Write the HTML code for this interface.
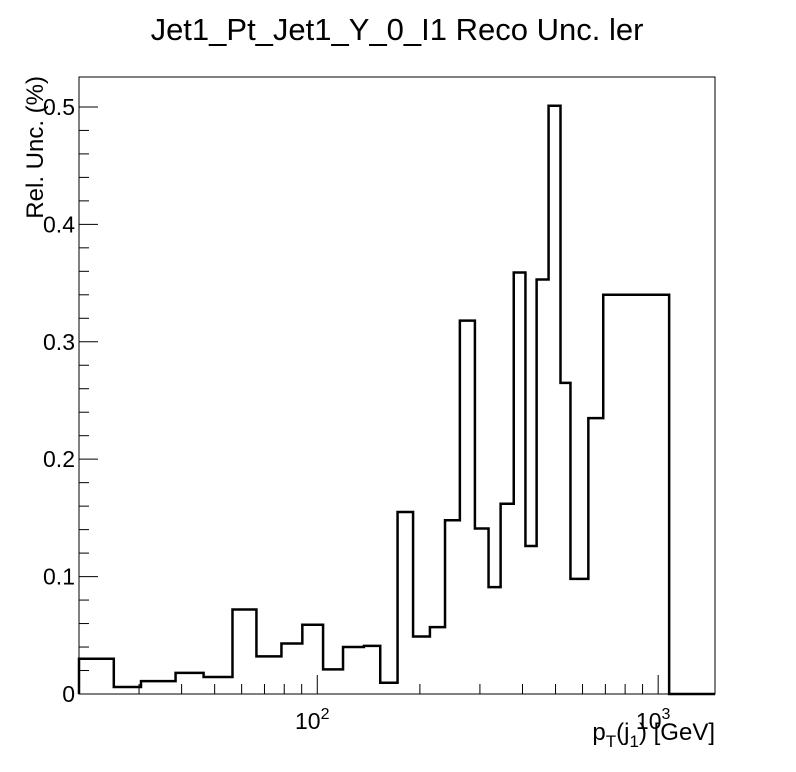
<!DOCTYPE html>
<html><head><meta charset="utf-8"><style>body{margin:0;background:#fff}svg{display:block;font-family:"Liberation Sans",sans-serif}</style></head>
<body>
<svg id="c" width="796" height="772" viewBox="0 0 796 772">
<text x="397" y="40" font-size="31" text-anchor="middle">Jet1_Pt_Jet1_Y_0_I1 Reco Unc. ler</text>
<rect x="79" y="77" width="636" height="617" fill="none" stroke="#000" stroke-width="1"/>
<text transform="translate(43,76) rotate(-90)" font-size="24" text-anchor="end">Rel. Unc. (%)</text>
<text x="715" y="740" font-size="24" text-anchor="end">p<tspan font-size="17" dy="7">T</tspan><tspan dy="-7">(j</tspan><tspan font-size="17" dy="7">1</tspan><tspan dy="-7">) [GeV]</tspan></text>
<g id="axes"></g>
<path id="hist" fill="none" stroke="#000" stroke-width="2.5"/>
</svg>
<script>
const binEdges=[20,25.3,30.4,38.4,46.4,56.4,66.3,78.5,90.4,104,119,137,153,172,191,214,237,262,290,318,345,377,408,440,477,517,553,624,690,1077,1468];
const binValues=[0.030,0.006,0.011,0.018,0.0145,0.072,0.032,0.043,0.059,0.021,0.040,0.041,0.0096,0.155,0.049,0.057,0.148,0.318,0.141,0.091,0.162,0.359,0.126,0.353,0.501,0.265,0.098,0.235,0.340,0];
const yTicks=[0,0.1,0.2,0.3,0.4,0.5];
const yTickLabels=["0","0.1","0.2","0.3","0.4","0.5"];
const xMin=20,xMax=1468,yMin=0,yMax=0.5255;
const L=79,R=715,T=77,B=694;
const xs=v=>L+(Math.log10(v)-Math.log10(xMin))/(Math.log10(xMax)-Math.log10(xMin))*(R-L);
const ys=v=>B-(v-yMin)/(yMax-yMin)*(B-T);
const ns="http://www.w3.org/2000/svg";
const ax=document.getElementById('axes');
function line(x1,y1,x2,y2,name){const l=document.createElementNS(ns,'line');l.setAttribute('x1',x1);l.setAttribute('y1',y1);l.setAttribute('x2',x2);l.setAttribute('y2',y2);l.setAttribute('stroke','#000');


ax.appendChild(l);}
function text(x,y,s,anchor,size,name){const t=document.createElementNS(ns,'text');t.setAttribute('x',x);t.setAttribute('y',y);t.setAttribute('text-anchor',anchor);t.setAttribute('font-size',size);t.textContent=s;


ax.appendChild(t);return t;}
for(let v=0;v<=0.52;v+=0.02){const y=ys(v);const major=Math.abs(v*10-Math.round(v*10))<1e-6;line(L,y,L+(major?19:10),y,'y-tick');}
yTicks.forEach((v,i)=>text(L-4,ys(v)+8,yTickLabels[i],'end',23,'y-tick-label'));
for(let d=10;d<=1000;d*=10){for(let k=1;k<10;k++){const v=d*k;if(v<xMin||v>xMax)continue;const major=k===1;line(xs(v),B,xs(v),B-(major?19:10),'x-tick');}}
[[100,'2'],[1000,'3']].forEach(([v,e])=>{const t=text(xs(v)-5,729,'10','middle',23,'x-tick-label');const sp=document.createElementNS(ns,'tspan');sp.setAttribute('font-size','16');sp.setAttribute('dy','-10');sp.textContent=e;t.appendChild(sp);});
let d='M'+xs(binEdges[0])+','+ys(0);
binValues.forEach((v,i)=>{d+=' L'+xs(binEdges[i])+','+ys(v)+' L'+xs(binEdges[i+1])+','+ys(v);});
document.getElementById('hist').setAttribute('d',d);
</script>
</body></html>
